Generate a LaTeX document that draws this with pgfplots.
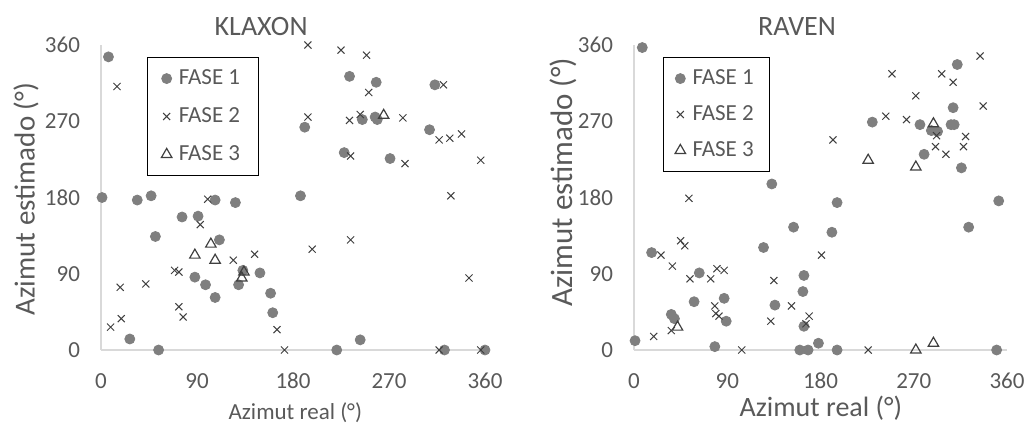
\documentclass[border=0pt]{standalone}
\usepackage{fontspec}
\setmainfont{Carlito}
\usepackage{pgfplots}
\pgfplotsset{compat=1.18}

\definecolor{txt}{HTML}{595959}
\definecolor{axl}{HTML}{D9D9D9}
\definecolor{f1}{HTML}{7F7F7F}
\definecolor{f2}{HTML}{404040}

\pgfplotsset{
  az/.style={
    scale only axis, height=152.5pt,
    xmin=0, xmax=360, ymin=0, ymax=360,
    xtick={0,90,...,360}, ytick={0,90,...,360},
    axis lines=left, axis line style={draw=axl, line width=0.7pt, -},
    major tick length=0pt,
    tick label style={font=\fontsize{11.5}{13}\selectfont, text=txt},
    /pgf/number format/assume math mode=true,
    xticklabel shift=8pt, yticklabel shift=7pt,
    clip=false,
    legend cell align=left,
    legend style={draw=black, font=\fontsize{11.5}{13}\selectfont, text=txt,
      anchor=north west, inner ysep=4pt,
      /tikz/every odd column/.append style={column sep=1.5pt}},
    title style={font=\fontsize{14}{16}\selectfont, text=txt, anchor=center},
    xlabel style={font=\fontsize{11.5}{13}\selectfont, text=txt, anchor=center},
    ylabel style={font=\fontsize{14.5}{16}\selectfont, text=txt, anchor=center},
  },
  fase1/.style={only marks, mark=*, mark size=2.5pt, color=f1},
  fase2/.style={only marks, mark=x, mark size=2.5pt, color=f2, mark options={line width=0.5pt}},
  fase3/.style={only marks, mark=triangle, mark size=3pt, color=f2, mark options={line width=0.6pt}},
}

\begin{document}
\begin{tikzpicture}
\useasboundingbox (0,0) rectangle (513.5pt,212.5pt);

% KLAXON
\begin{axis}[az, width=192pt, at={(50.5pt,37.5pt)}, anchor=south west,
  title={KLAXON}, title style={at={(axis description cs:0.417,1.02)}},
  xlabel={Azimut real (°)}, xlabel style={at={(axis description cs:0.506,-0.207)}},
  ylabel={Azimut estimado (°)}, ylabel style={at={(axis description cs:-0.195,0.495)}},
  legend style={at={(rel axis cs:0.12,0.96)}, row sep=6pt, inner xsep=7pt}]
\addplot[fase1] coordinates {
  (7,346) (1,180) (34,177) (47,182) (107,177) (126,174) (76,157) (91,158)
  (51,134) (111,130) (88,86) (98,77) (133,94) (129,77) (149,91) (107,62)
  (159,67) (161,44) (27,13) (54,0) (187,182) (191,263) (233,323) (258,316)
  (313,313) (245,272) (257,275) (259,272) (308,260) (228,233) (271,226)
  (221,0) (243,12) (322,0) (360,0)};
\addlegendentry{FASE 1}
\addplot[fase2] coordinates {
  (15,311) (100,178) (93,148) (124,106) (144,113) (69,94) (73,92) (18,74)
  (42,78) (73,51) (77,39) (19,37) (9,27) (165,24) (172,0) (194,360)
  (225,354) (249,348) (251,304) (321,313) (194,275) (233,271) (243,278)
  (283,274) (317,248) (327,250) (338,255) (234,229) (285,220) (356,224)
  (328,182) (198,119) (234,130) (345,85) (317,0) (356,0)};
\addlegendentry{FASE 2}
\addplot[fase3] coordinates {
  (265,277) (103,125) (88,112) (107,106) (134,92) (132,85)};
\addlegendentry{FASE 3}
\end{axis}

% RAVEN
\begin{axis}[az, width=186.5pt, at={(317pt,37.5pt)}, anchor=south west,
  title={RAVEN}, title style={at={(axis description cs:0.437,1.02)}},
  xlabel={Azimut real (°)}, xlabel style={at={(axis description cs:0.501,-0.19)}, font=\fontsize{14}{16}\selectfont},
  ylabel={Azimut estimado (°)}, ylabel style={at={(axis description cs:-0.19,0.55)}, font=\fontsize{15.5}{17}\selectfont},
  legend style={at={(rel axis cs:0.077,0.96)}, row sep=5pt, inner xsep=6pt}]
\addplot[fase1] coordinates {
  (8,357) (133,196) (312,337) (308,286) (230,269) (276,266) (287,259)
  (293,258) (306,266) (309,266) (280,231) (316,215) (196,174) (352,176)
  (154,145) (125,121) (17,115) (63,91) (164,88) (163,69) (58,57) (87,61)
  (136,53) (36,42) (39,37) (89,34) (164,28) (1,11) (78,4) (160,0) (168,0)
  (178,8) (323,145) (191,139) (196,0) (350,0)};
\addlegendentry{FASE 1}
\addplot[fase2] coordinates {
  (53,179) (334,347) (249,326) (297,326) (308,316) (272,300) (337,288)
  (243,276) (263,272) (292,253) (291,240) (320,252) (318,240) (301,231)
  (192,248) (26,112) (45,129) (49,123) (37,99) (54,84) (74,84) (80,96)
  (87,94) (135,82) (181,112) (152,52) (78,52) (79,43) (82,40) (132,34)
  (169,40) (166,31) (36,23) (19,16) (104,0) (226,0)};
\addlegendentry{FASE 2}
\addplot[fase3] coordinates {
  (289,267) (226,224) (272,216) (42,27) (272,0) (289,8)};
\addlegendentry{FASE 3}
\end{axis}
\end{tikzpicture}
\end{document}
